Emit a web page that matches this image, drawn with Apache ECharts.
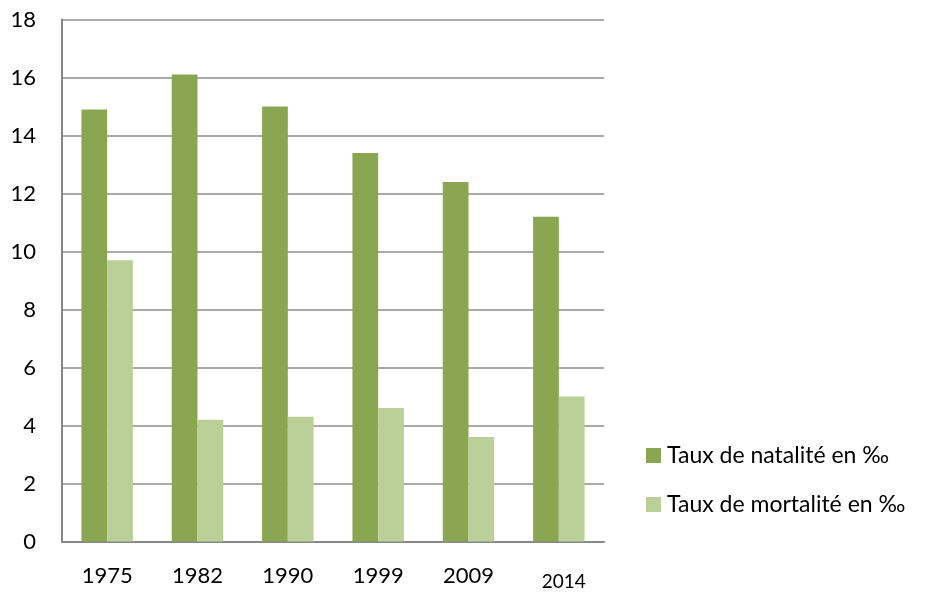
<!DOCTYPE html>
<html>
<head>
<meta charset="utf-8">
<script src="https://cdn.jsdelivr.net/npm/echarts@6/dist/echarts.min.js"></script>
<style>
html,body{margin:0;padding:0;background:#fff;}
#chart{width:929px;height:592px;}
</style>
</head>
<body>
<div id="chart"></div>
<script>
const categories = ['1975', '1982', '1990', '1999', '2009', '2014'];
const natalite = [14.9, 16.1, 15.0, 13.4, 12.4, 11.2];
const mortalite = [9.7, 4.2, 4.3, 4.6, 3.6, 5.0];
const seriesNames = ['Taux de natalité en ‰', 'Taux de mortalité en ‰'];

const FONT = 'Lato';
const chart = echarts.init(document.getElementById('chart'));
const catData = categories.map((c, i) => i === categories.length - 1
  ? { value: c, textStyle: { fontSize: 19, padding: [8, 0, 0, 10] } }
  : c);

chart.setOption({
  animation: false,
  backgroundColor: '#ffffff',
  grid: { left: 62, right: 325, top: 19.5, bottom: 50.5 },
  legend: {
    orient: 'vertical',
    left: 646,
    top: 444,
    padding: 0,
    itemWidth: 15,
    itemHeight: 15,
    itemGap: 26,
    icon: 'rect',
    textStyle: { fontFamily: FONT, fontSize: 23, color: '#000', padding: [0, 0, 0, 1] },
    data: seriesNames
  },
  xAxis: {
    type: 'category',
    data: catData,
    axisLine: { lineStyle: { color: '#888888', width: 2 } },
    axisTick: { show: false },
    axisLabel: { fontFamily: FONT, fontSize: 22, color: '#000', margin: 23 }
  },
  yAxis: {
    type: 'value',
    min: 0,
    max: 18,
    interval: 2,
    axisLine: { show: true, lineStyle: { color: '#888888', width: 2 } },
    axisTick: { show: false },
    splitLine: { lineStyle: { color: '#8c8c8c', width: 1.5 } },
    axisLabel: { fontFamily: FONT, fontSize: 22, color: '#000', margin: 26 }
  },
  series: [
    {
      name: seriesNames[0],
      type: 'bar',
      data: natalite,
      barGap: '0%',
      barCategoryGap: '43%',
      itemStyle: { color: '#8ba650' }
    },
    {
      name: seriesNames[1],
      type: 'bar',
      data: mortalite,
      barGap: '0%',
      barCategoryGap: '43%',
      itemStyle: { color: '#bbd098' }
    }
  ]
});
</script>
</body>
</html>
